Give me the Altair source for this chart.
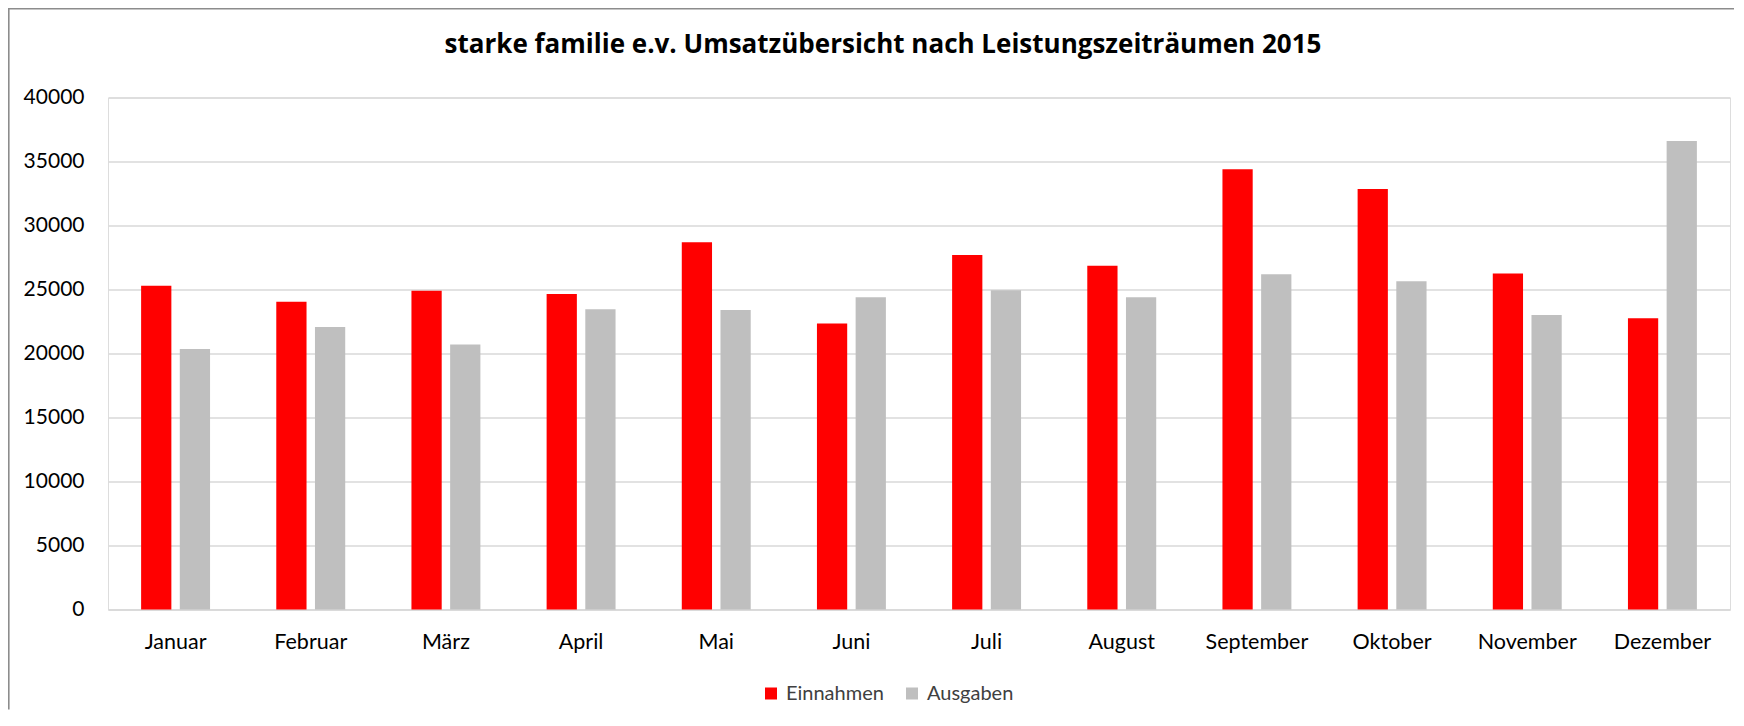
import altair as alt
import pandas as pd

months = ["Januar", "Februar", "März", "April", "Mai", "Juni", "Juli",
          "August", "September", "Oktober", "November", "Dezember"]
einnahmen = [25300, 24050, 24900, 24650, 28700, 22350, 27700, 26850, 34400, 32850, 26250, 22750]
ausgaben = [20350, 22070, 20700, 23450, 23400, 24400, 24950, 24400, 26200, 25650, 23000, 36600]
series = ["Einnahmen", "Ausgaben"]
colors = ["#FF0000", "#BFBFBF"]
y_ticks = [0, 5000, 10000, 15000, 20000, 25000, 30000, 35000, 40000]
title_text = "starke familie e.v. Umsatzübersicht nach Leistungszeiträumen 2015"

rows = []
for m, e, a in zip(months, einnahmen, ausgaben):
    rows.append({"Monat": m, "Serie": series[0], "Wert": e})
    rows.append({"Monat": m, "Serie": series[1], "Wert": a})
df = pd.DataFrame(rows)

FONT = "Lato"
W, H = 1622, 512

bars = alt.Chart(df).mark_bar().encode(
    x=alt.X("Monat:N", sort=months, title=None,
            scale=alt.Scale(paddingInner=0.49, paddingOuter=0.245),
            axis=alt.Axis(labelAngle=0, labelFontSize=21.5, labelFont=FONT,
                          labelColor="#000000", labelPadding=22, ticks=False,
                          domainColor="#D9D9D9", domainWidth=1.3, grid=False)),
    xOffset=alt.XOffset("Serie:N", sort=series,
                        scale=alt.Scale(paddingInner=0.218, paddingOuter=0)),
    y=alt.Y("Wert:Q", title=None,
            scale=alt.Scale(domain=[0, 40000], nice=False),
            axis=alt.Axis(values=y_ticks, labelFontSize=21, labelFont=FONT,
                          labelColor="#000000", labelPadding=24, ticks=False,
                          domain=False, gridColor="#D9D9D9", gridWidth=1.3,
                          format="d")),
    color=alt.Color("Serie:N", sort=series,
                    scale=alt.Scale(domain=series, range=colors),
                    legend=alt.Legend(title=None, orient="none", direction="horizontal",
                                      legendX=653, legendY=586,
                                      symbolType="square", symbolSize=144,
                                      symbolStrokeWidth=0,
                                      labelFont=FONT, labelFontSize=20,
                                      labelColor="#404040", columnPadding=18,
                                      labelOffset=5)),
)

frame_df = pd.DataFrame({"k": [0]})
left_border = alt.Chart(frame_df).mark_rule(color="#8C8C8C", strokeWidth=1.6).encode(
    x=alt.value(-99.2), y=alt.value(-88.7), y2=alt.value(H + 100))
top_border = alt.Chart(frame_df).mark_rule(color="#8C8C8C", strokeWidth=1.6).encode(
    x=alt.value(-100), x2=alt.value(W + 4), y=alt.value(-88.7))
title = alt.Chart(frame_df).mark_text(
    font="Open Sans", fontSize=26, fontWeight="bold", color="#000000",
    align="center", baseline="alphabetic").encode(
    x=alt.value(W / 2 - 36), y=alt.value(-45), text=alt.value(title_text))

chart = alt.layer(bars, left_border, top_border, title).properties(
    width=W, height=H,
    autosize=alt.AutoSizeParams(type="none"),
    padding={"left": 100, "top": 89.5, "right": 4, "bottom": 100},
).configure_view(stroke=None).configure(background="#FFFFFF")

chart.save("out.html", embed_options={"renderer": "svg", "actions": False})
